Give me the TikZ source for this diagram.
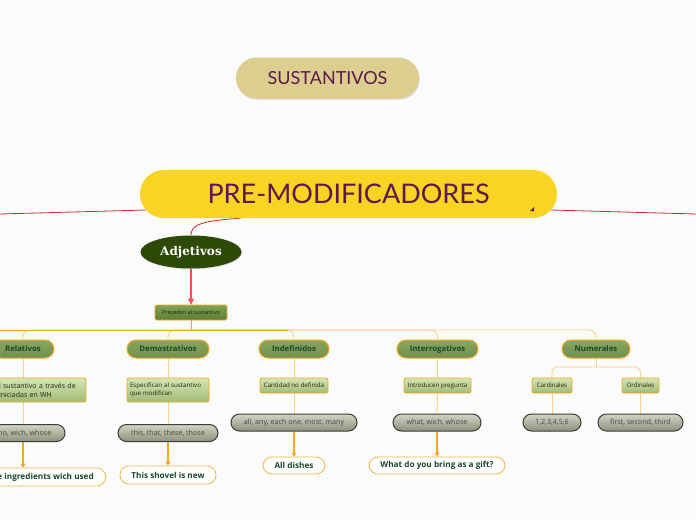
\documentclass[tikz,border=0pt]{standalone}
\usepackage{fontspec}
\setmainfont{Open Sans}
\newfontfamily\titlefont{Lato}
\newfontfamily\adjfont{DejaVu Serif}
\usetikzlibrary{shapes.geometric,arrows.meta,backgrounds,shadows,calc}
\definecolor{bgc}{RGB}{251,251,251}
\definecolor{purp}{RGB}{92,26,75}
\definecolor{khaki}{RGB}{220,206,143}
\definecolor{yel}{RGB}{249,212,34}
\definecolor{adjg}{RGB}{44,74,5}
\definecolor{orng}{RGB}{245,166,35}
\definecolor{lorng}{RGB}{252,206,140}
\definecolor{redl}{RGB}{196,44,52}
\definecolor{reda}{RGB}{255,74,86}
\definecolor{dgreen}{RGB}{24,72,42}
\tikzset{
  x=1pt,y=-1pt,
  pill/.style={rounded corners=#1,inner sep=0pt,align=center},
  sust/.style={pill=20.5pt,fill=khaki,minimum width=183pt,minimum height=41pt,text=purp,font=\titlefont\fontsize{18}{21}\selectfont,drop shadow={shadow xshift=0.8pt,shadow yshift=-1.2pt,opacity=0.25}},
  prem/.style={pill=24pt,fill=yel,minimum width=417pt,minimum height=48pt,text=purp,font=\titlefont\fontsize{27}{30}\selectfont},
  adjs/.style={ellipse,fill=adjg,minimum width=101pt,minimum height=33pt,inner sep=0pt,text=white,font=\adjfont\bfseries\fontsize{12}{14}\selectfont,drop shadow={shadow xshift=0.6pt,shadow yshift=-0.8pt,opacity=0.25}},
  precs/.style={rounded corners=1.5pt,draw=orng,line width=0.8pt,top color={rgb,255:red,128;green,163;blue,84},bottom color={rgb,255:red,94;green,126;blue,52},minimum width=72pt,minimum height=15pt,inner sep=0pt,font=\fontsize{5.5}{6.5}\selectfont,text={rgb,255:red,25;green,35;blue,15}},
  lone/.style={pill=9pt,draw=orng,line width=1pt,top color={rgb,255:red,136;green,166;blue,94},bottom color={rgb,255:red,114;green,144;blue,74},minimum height=18pt,font=\bfseries\fontsize{7.8}{9}\selectfont,text=dgreen},
  ltwo/.style={rounded corners=2pt,draw=orng,line width=0.8pt,top color={rgb,255:red,214;green,230;blue,178},bottom color={rgb,255:red,160;green,186;blue,118},inner sep=0pt,font=\fontsize{6.2}{8}\selectfont,text={rgb,255:red,35;green,35;blue,20}},
  lthree/.style={pill=8.5pt,draw={rgb,255:red,60;green,60;blue,60},line width=1pt,top color={rgb,255:red,210;green,213;blue,196},bottom color={rgb,255:red,140;green,146;blue,122},minimum height=17pt,font=\fontsize{7.2}{8.5}\selectfont,text={rgb,255:red,72;green,74;blue,64}},
  lfour/.style={pill=9pt,draw={rgb,255:red,248;green,180;blue,74},line width=0.8pt,fill=white,minimum height=18pt,font=\bfseries\fontsize{8.2}{9.5}\selectfont,text=dgreen},
  redline/.style={draw=redl,line width=0.8pt},
  bus/.style={draw=orng,line width=1pt},
  branch/.style={draw=lorng,line width=0.9pt},
  exarrow/.style={draw=orng,line width=1.1pt,-{Triangle[length=4pt,width=5pt]}},
}
\begin{document}
\begin{tikzpicture}
\useasboundingbox (0,0) rectangle (696,520);
\clip (0,0) rectangle (696,520);

% main nodes
\node[sust] (sust) at (327.5,78) {SUSTANTIVOS};
\node[prem] (pre) at (348.5,194) {PRE-MODIFICADORES};
\fill[purp] (534,207) -- (534,211) -- (530,211) -- cycle;
\node[adjs] (adj) at (191,252) {Adjetivos};
\node[precs] (prec) at (191,312.5) {Preceden al sustantivo};

% level 1
\node[lone,minimum width=62pt] (rel) at (23,349) {Relativos};
\node[lone,minimum width=82pt] (dem) at (168,349) {Demostrativos};
\node[lone,minimum width=70pt] (ind) at (294,349) {Indefinidos};
\node[lone,minimum width=81pt] (int) at (437.5,349) {Interrogativos};
\node[lone,minimum width=68pt] (num) at (596,349) {Numerales};

% level 2
\node[ltwo,minimum width=90pt,minimum height=24pt,align=left,text width=84pt,font=\fontsize{7}{9}\selectfont] (rel2) at (41,390) {l sustantivo a través de\\iniciadas en WH};
\node[ltwo,minimum width=82pt,minimum height=24pt,align=left,text width=76pt] (dem2) at (168,390) {Especifican al sustantivo\\que modifican};
\node[ltwo,minimum width=68pt,minimum height=15pt] (ind2) at (294,385.5) {Cantidad no definida};
\node[ltwo,minimum width=67pt,minimum height=15pt] (int2) at (437.5,385.5) {Introducen pregunta};
\node[ltwo,minimum width=40pt,minimum height=15pt] (card) at (552,385.5) {Cardinales};
\node[ltwo,minimum width=37pt,minimum height=15pt] (ord) at (640.5,385.5) {Ordinales};

% level 3
\node[lthree,minimum width=86pt] (rel3) at (22,433) {who, wich, whose};
\node[lthree,minimum width=100pt] (dem3) at (168,433) {this, that, these, those};
\node[lthree,minimum width=126pt] (ind3) at (294,422.5) {all, any, each one, most, many};
\node[lthree,minimum width=88pt] (int3) at (437,422.5) {what, wich, whose};
\node[lthree,minimum width=58pt] (card3) at (552,422.5) {1,2,3,4,5,6};
\node[lthree,minimum width=85pt] (ord3) at (640.5,422.5) {first, second, third};

% level 4
\node[lfour,minimum width=120pt,anchor=east] (rel4) at (106,477) {e ingredients wich used};
\node[lfour,minimum width=96pt] (dem4) at (168,475) {This shovel is new};
\node[lfour,minimum width=62pt,minimum height=17pt] (ind4) at (294,465.5) {All dishes};
\node[lfour,minimum width=136pt,minimum height=17pt] (int4) at (437,465.5) {What do you bring as a gift?};

\coordinate (lfree) at (0,214);
\coordinate (rfree) at (696,214);
\coordinate (busl) at (0,330);
\coordinate (nj) at (596,367);

\begin{scope}[on background layer]
\fill[bgc] (0,0) rectangle (696,520);
\draw[redline] (lfree) -- ([shift={(6pt,-16pt)}]pre.west);
\draw[redline] (rfree) -- ([shift={(-6pt,-16pt)}]pre.east);
\draw[redline] ([xshift=-108pt]pre.south) .. controls (200,221) and (191,225) .. (adj.north);
\draw[draw=reda,line width=1.4pt,-{Triangle[length=6pt,width=6pt]}] (adj.south) -- (prec.north);
% bus
\foreach \n in {rel,dem,ind,int,num}{
  \draw[branch,rounded corners=7pt] (prec.south |- busl) -| (\n.north);
}
\draw[bus] (busl) -- ([xshift=-6pt]ind.north |- busl);
\draw[bus] (prec.south) -- (prec.south |- busl);
\foreach \a/\b in {rel/rel2,rel2/rel3}{
  \draw[branch] (\a.south -| rel.south) -- (\b.north -| rel.south);
}
\foreach \a/\b in {dem/dem2,ind/ind2,int/int2,dem2/dem3,ind2/ind3,int2/int3,card/card3,ord/ord3}{
  \draw[branch] (\a.south) -- (\b.north);
}
\draw[branch] (num.south) -- (nj);
\draw[branch,rounded corners=5pt] (nj) -| (card.north);
\draw[branch,rounded corners=5pt] (nj) -| (ord.north);
\draw[exarrow] (rel3.south -| rel.south) -- (rel4.north -| rel.south);
\foreach \a/\b in {dem3/dem4,ind3/ind4,int3/int4}{
  \draw[exarrow] (\a.south) -- (\a.south |- \b.north);
}
\end{scope}
\end{tikzpicture}
\end{document}
